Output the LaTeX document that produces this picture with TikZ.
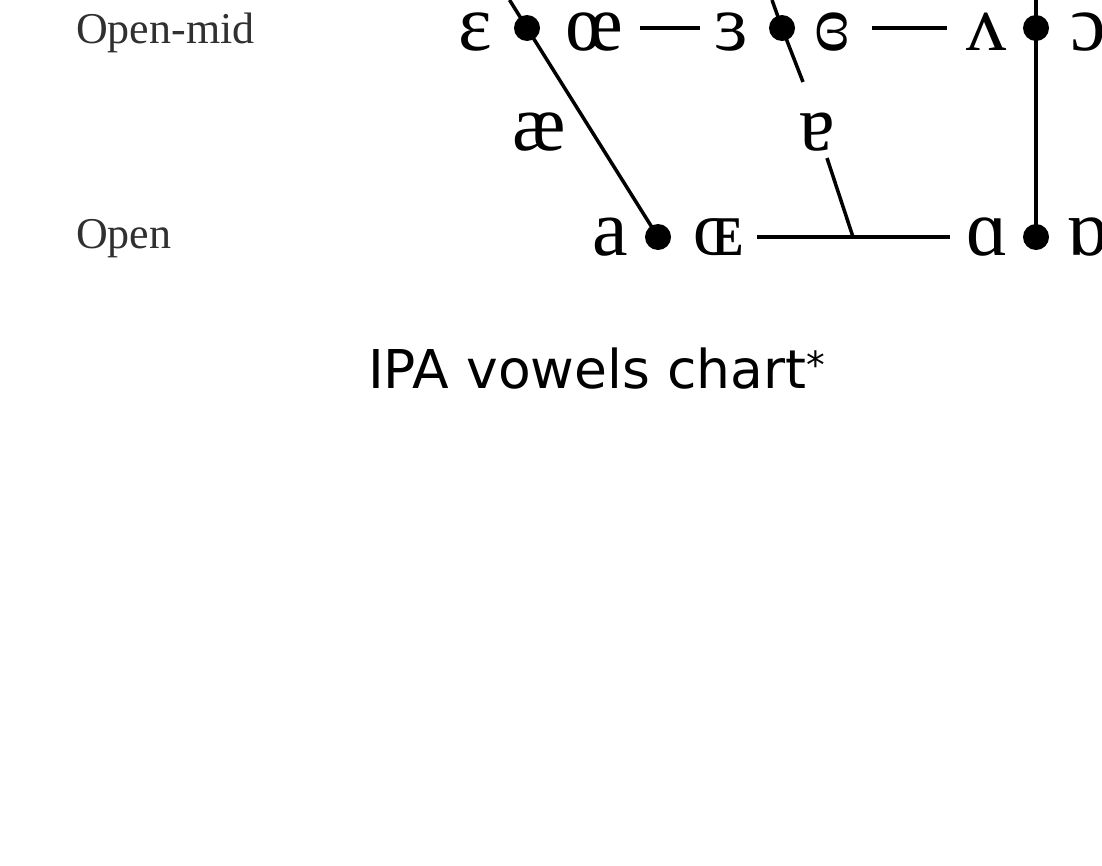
\documentclass[tikz,border=0pt]{standalone}
\usepackage{fontspec}
\setmainfont{Liberation Serif}
\newfontfamily\capfont{DejaVu Sans}
\definecolor{labelgray}{HTML}{303030}
\tikzset{
  vowel/.style={anchor=base, inner sep=0pt, text height=40pt, text depth=0pt, font=\fontsize{80}{80}\selectfont},
  rowlabel/.style={anchor=base west, inner sep=0pt, text height=30pt, text=labelgray, font=\fontsize{44}{44}\selectfont},
  vdot/.style={circle, fill=black, inner sep=0pt, minimum size=26pt},
  chartline/.style={line width=3.5pt, black},
  caption/.style={anchor=base west, inner sep=0pt, font=\capfont\fontsize{53.5}{53.5}\selectfont}
}
\begin{document}
\begin{tikzpicture}[x=1pt, y=-1pt]
\useasboundingbox[fill=white] (0,0) rectangle (1102,865);
\clip (0,0) rectangle (1102,865);
% row labels
\node[rowlabel] (lopenmid) at (76,43) {Open-mid};
\node[rowlabel] (lopen) at (76,248) {Open};
% row 1 (open-mid)
\node[vowel] (epsilon) at (475,50) {ɛ};
\node[vowel] (oe) at (594,50) {œ};
\node[vowel] (revepsilon) at (731,50) {ɜ};
\node[vowel] (closedrev) at (832,50) {ɞ};
\node[vowel] (wedge) at (986,50) {ʌ};
\node[vowel] (openo) at (1088,50) {ɔ};
% row 2 (near-open)
\node[vowel] (ash) at (539,150) {æ};
\node[vowel] (turneda) at (817,150) {ɐ};
% row 3 (open)
\node[vowel] (a) at (610,255) {a};
\node[vowel] (smalloe) at (719,255) {ɶ};
\node[vowel] (alpha) at (987,255) {ɑ};
\node[vowel] (turnedalpha) at (1087,255) {ɒ};
% dots
\node[vdot] (d1) at (527,28) {};
\node[vdot] (d2) at (782,28) {};
\node[vdot] (d3) at (1036,28) {};
\node[vdot] (d4) at (658,237) {};
\node[vdot] (d5) at (1036,237) {};
% free ends of connectors
\coordinate (topA) at (509.5,0);
\coordinate (topB) at (772,0);
\coordinate (endB) at (803,82);
\coordinate (topC) at (1036,0);
\coordinate (h1a) at (640,28);
\coordinate (h1b) at (700,28);
\coordinate (h2a) at (872,28);
\coordinate (h2b) at (947,28);
\coordinate (h3a) at (757,237);
\coordinate (h3b) at (950,237);
\coordinate (brtop) at (827,158);
\coordinate (brbot) at (853,237);
% connectors
\draw[chartline] (topA) -- (d1.center) -- (d4.center);
\draw[chartline] (topB) -- (d2.center) -- (endB);
\draw[chartline] (topC) -- (d3.center) -- (d5.center);
\draw[chartline] (h1a) -- (h1b);
\draw[chartline] (h2a) -- (h2b);
\draw[chartline] (h3a) -- (h3b);
\draw[chartline] (brtop) -- (brbot);
% caption
\node[caption] (title) at (368,388) {IPA vowels chart\textsuperscript{*}};
\end{tikzpicture}
\end{document}
